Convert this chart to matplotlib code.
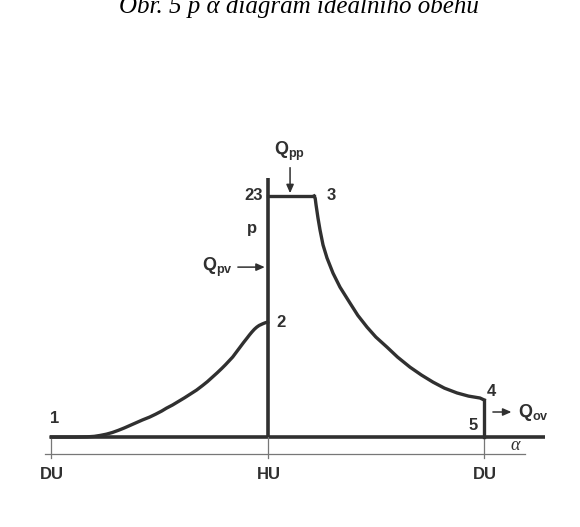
import matplotlib
matplotlib.use('Agg')
import matplotlib.pyplot as plt
import numpy as np

plt.rcParams['font.family'] = ['Liberation Sans', 'DejaVu Sans']
plt.rcParams['mathtext.fontset'] = 'custom'
plt.rcParams['mathtext.rm'] = 'Liberation Sans:bold'
plt.rcParams['mathtext.it'] = 'Liberation Sans:bold'

# crank angle alpha [deg] and relative pressure p
alpha_comp = [0, 20, 30, 36, 41, 46, 51, 56, 61, 66, 71, 76, 82, 87, 92, 96, 101, 106, 111, 116, 121,
              126, 130, 134, 138, 142, 145, 148, 151, 154, 157, 160, 163, 165, 167, 169, 171, 173,
              176, 178, 180]
p_comp = [0, 0, 0.001, 0.003, 0.007, 0.012, 0.019, 0.028, 0.038, 0.049, 0.060, 0.071, 0.083, 0.095,
          0.108, 0.120, 0.133, 0.148, 0.163, 0.179, 0.195, 0.214, 0.230, 0.248, 0.266, 0.285, 0.300,
          0.316, 0.332, 0.352, 0.372, 0.392, 0.411, 0.424, 0.436, 0.447, 0.456, 0.463, 0.470, 0.474, 0.477]

alpha_comb = [180, 218.6]
p_comb = [1.0, 1.0]

alpha_exp = [218.6, 219.6, 220.3, 221.9, 223.6, 226.1, 229.4, 234.4, 240.2, 248.5, 255, 262.7, 270,
             279.3, 288, 298.4, 308, 317.5, 327, 337.5, 347, 356.6, 360]
p_exp = [1.0, 0.990, 0.963, 0.909, 0.859, 0.797, 0.743, 0.680, 0.622, 0.556, 0.505, 0.456, 0.415,
         0.373, 0.332, 0.290, 0.257, 0.228, 0.203, 0.183, 0.170, 0.162, 0.154]

alpha_exhaust = [360, 360]
p_exhaust = [0.154, 0]

tick_pos = [0, 180, 360]
tick_lab = ['DU', 'HU', 'DU']

ink = '#303030'

fig = plt.figure(figsize=(5.8, 5.27), dpi=100)
ax = fig.add_axes([0, 0, 1, 1])
ax.set_xlim(-42.4, 439.7)
ax.set_ylim(-0.373, 1.813)
ax.axis('off')

# caption, its upper part runs off the page
fig.text(0.515, 0.976, 'Obr. 5 p α diagram ideálního oběhu', ha='center', va='baseline',
         fontsize=18, family='Liberation Serif', style='italic', color='black')

# base line and the thin scale line beneath
ax.plot([-0.8, 410.6], [0, 0], color=ink, lw=2.6, solid_capstyle='butt')
ax.plot([-5, 394], [-0.0705, -0.0705], color='#777777', lw=0.9)
for x in tick_pos:
    ax.plot([x, x], [0, -0.085], color='#777777', lw=0.9)

# cycle
ax.plot(alpha_comp, p_comp, color=ink, lw=2.4, solid_joinstyle='round')
ax.plot([180, 180], [0, 1.075], color=ink, lw=2.6, solid_capstyle='butt')
ax.plot(alpha_comb, p_comb, color=ink, lw=2.4)
ax.plot(alpha_exp, p_exp, color=ink, lw=2.4, solid_joinstyle='round')
ax.plot(alpha_exhaust, p_exhaust, color=ink, lw=2.4)

lab = dict(color=ink, fontsize=12, fontweight='bold', ha='center', va='center')
for x, t in zip(tick_pos, tick_lab):
    ax.text(x + 1, -0.155, t, **lab)

ax.text(3.3, 0.079, '1', **lab)
ax.text(191, 0.477, '2', **lab)
ax.text(176, 1.0, '23', **{**lab, 'ha': 'right'})
ax.text(232.8, 1.0, '3', **lab)
ax.text(366, 0.19, '4', **lab)
ax.text(350.8, 0.05, '5', **lab)
ax.text(167, 0.867, 'p', **lab)
ax.text(385.7, -0.035, 'α', color=ink, fontsize=13, family='Liberation Serif',
        style='italic', ha='center', va='center')

# heat flows
arr = dict(arrowstyle='-|>,head_length=0.5,head_width=0.22', color=ink, lw=1.1)
qlab = dict(color=ink, fontsize=13, fontweight='bold', va='center')
ax.annotate('', xy=(180, 0.705), xytext=(153, 0.705), arrowprops=arr)
ax.text(151, 0.705, r'Q$_{\rm pv}$', ha='right', **qlab)
ax.annotate('', xy=(198.7, 1.0), xytext=(198.7, 1.129), arrowprops=arr)
ax.text(198, 1.185, r'Q$_{\rm pp}$', ha='center', **qlab)
ax.annotate('', xy=(385, 0.104), xytext=(365, 0.104), arrowprops=arr)
ax.text(388, 0.104, r'Q$_{\rm ov}$', ha='left', **qlab)

fig.savefig('out.png', dpi=100)
